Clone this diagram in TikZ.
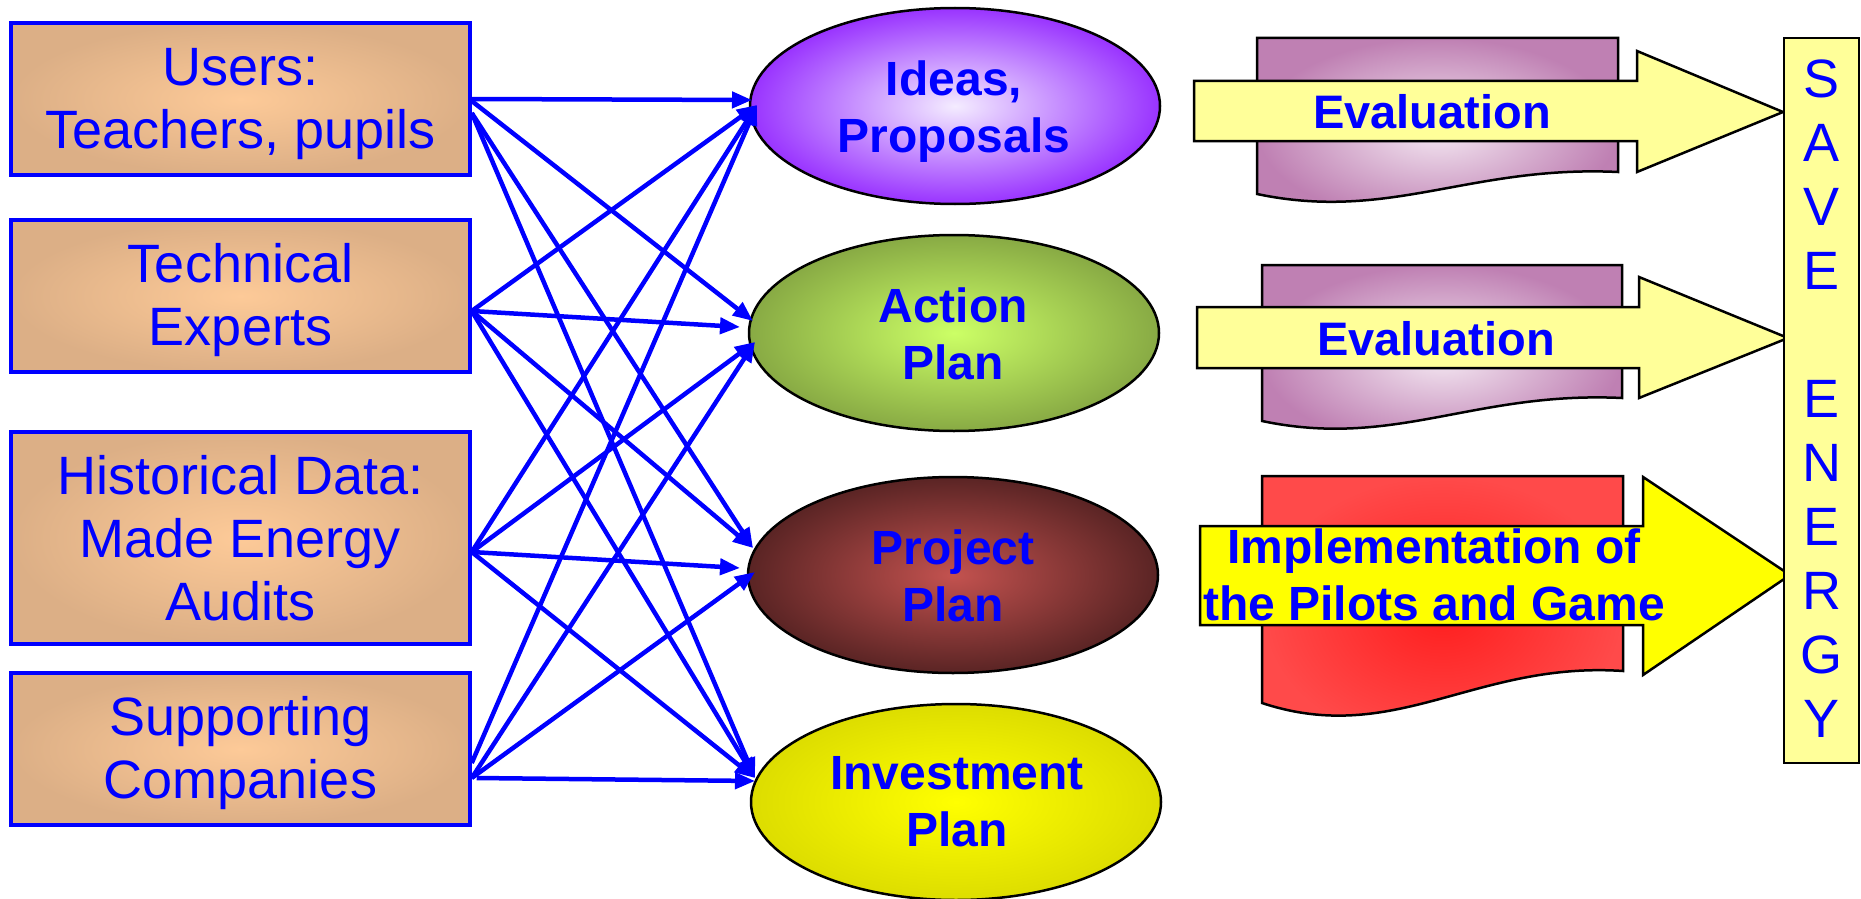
\documentclass[tikz,border=0pt]{standalone}
\usepackage{fontspec}
\setmainfont{Liberation Sans}
\usetikzlibrary{arrows.meta,shapes.geometric}
\definecolor{tblue}{HTML}{0000FF}
\definecolor{boxin}{HTML}{FDCA98}
\definecolor{boxout}{HTML}{DCAF86}
\definecolor{ideain}{HTML}{F4ECFF}
\definecolor{ideaout}{HTML}{9933FF}
\definecolor{actin}{HTML}{CCFF66}
\definecolor{actout}{HTML}{88AA44}
\definecolor{projin}{HTML}{C3524F}
\definecolor{projout}{HTML}{5A2424}
\definecolor{invin}{HTML}{FFFF00}
\definecolor{invout}{HTML}{DDDD00}
\definecolor{purpin}{HTML}{F4E8F2}
\definecolor{purpout}{HTML}{BF80B3}
\definecolor{redin}{HTML}{FF1E1E}
\definecolor{redout}{HTML}{FF4A4A}
\definecolor{lyellow}{HTML}{FFFF99}
\definecolor{byellow}{HTML}{FFFF00}
\begin{document}
\begin{tikzpicture}[x=1pt,y=-1pt,
  srcbox/.style={rectangle, draw=tblue, line width=3.5pt, inner color=boxin, outer color=boxout,
    minimum width=459pt, inner sep=0pt},
  oval/.style={ellipse, draw=black, line width=2.5pt, minimum width=410pt, minimum height=196pt, inner sep=0pt},
  btxt/.style={text=tblue, align=center, inner sep=0pt, font=\fontsize{54pt}{63pt}\selectfont},
  etxt/.style={text=tblue, align=center, inner sep=0pt, font=\fontsize{48pt}{57pt}\selectfont\bfseries},
  wtxt/.style={text=tblue, align=center, inner sep=0pt, font=\fontsize{47pt}{57pt}\selectfont\bfseries},
  conn/.style={draw=tblue, line width=4.5pt, -{Triangle[length=20pt,width=16pt]}},
  shapeline/.style={draw=black, line width=2.5pt, line join=miter}
]
\useasboundingbox (0,0) rectangle (1861,899);

% ---- source boxes
\node[srcbox, minimum height=152pt] (users) at (240.5,99) {};
\node[srcbox, minimum height=152pt] (tech) at (240.5,296) {};
\node[srcbox, minimum height=212pt] (hist) at (240.5,538) {};
\node[srcbox, minimum height=152pt] (supp) at (240.5,749) {};
\node[btxt] (usersT) at (240.5,104.5) {Users:\\Teachers, pupils};
\node[btxt] (techT) at (240.5,300.5) {Technical\\Experts};
\node[btxt] (histT) at (240.5,538) {Historical Data:\\Made Energy \\Audits};
\node[btxt] (suppT) at (240.5,753) {Supporting\\Companies};

% ---- ovals
\node[oval, inner color=ideain, outer color=ideaout] (ideas) at (955,106) {};
\node[oval, inner color=actin, outer color=actout] (action) at (954,333) {};
\node[oval, inner color=projin, outer color=projout] (project) at (953,575) {};
\node[oval, inner color=invin, outer color=invout] (invest) at (956,802) {};
\node[etxt] (ideasT) at (954,112) {Ideas,\\Proposals};
\node[etxt] (actionT) at (953,333.5) {Action\\Plan};
\node[etxt] (projectT) at (953,576) {Project\\Plan};
\node[etxt] (investT) at (957,802) {Investment\\Plan};

% ---- connector end points
\coordinate (sU1) at (users.east);
\coordinate (sU2) at ([yshift=-2pt]users.east);
\coordinate (sU3) at ([yshift=-14pt]users.east);
\coordinate (sT) at ([yshift=-15pt]tech.east);
\coordinate (sH) at ([yshift=-14pt]hist.east);
\coordinate (sS1) at ([yshift=-14pt]supp.east);
\coordinate (sS2) at ([yshift=-29pt]supp.east);
\coordinate (sS0) at ([xshift=5pt,yshift=-29pt]supp.east);
\coordinate (tI0) at (752,100);
\coordinate (tI) at (757,105);
\coordinate (tA1) at (753,321);
\coordinate (tA2) at (740,327);
\coordinate (tA3) at (755,342);
\coordinate (tP1) at (753,548);
\coordinate (tP2) at (740,568);
\coordinate (tP3) at (755,572);
\coordinate (tV) at (755,778);
\coordinate (tV0) at (755,781);

\draw[conn] (sU1) -- (tI0);
\draw[conn] (sU2) -- (tA1);
\draw[conn] (sU3) -- (tP1);
\draw[conn] (sU3) -- (tV);
\draw[conn] (sT) -- (tI);
\draw[conn] (sT) -- (tA2);
\draw[conn] (sT) -- (tP1);
\draw[conn] (sT) -- (tV);
\draw[conn] (sH) -- (tI);
\draw[conn] (sH) -- (tA3);
\draw[conn] (sH) -- (tP2);
\draw[conn] (sH) -- (tV);
\draw[conn] (sS1) -- (tI);
\draw[conn] (sS2) -- (tA3);
\draw[conn] (sS2) -- (tP3);
\draw[conn] (sS0) -- (tV0);

% ---- document shapes behind the arrows
\draw[shapeline, inner color=purpin, outer color=purpout]
  (1257,38) -- (1618,38) -- (1618,172) .. controls (1470,165) and (1390,222) .. (1257,194) -- cycle;
\draw[shapeline, inner color=purpin, outer color=purpout]
  (1262,265) -- (1622,265) -- (1622,398) .. controls (1474,391) and (1395,449) .. (1262,421) -- cycle;
\draw[shapeline, inner color=redin, outer color=redout]
  (1262,476) -- (1623,476) -- (1623,671) .. controls (1475,661) and (1395,747) .. (1262,703) -- cycle;

% ---- block arrows
\draw[shapeline, fill=lyellow]
  (1194,81) -- (1637,81) -- (1637,51) -- (1783,112) -- (1637,172) -- (1637,141) -- (1194,141) -- cycle;
\draw[shapeline, fill=lyellow]
  (1197,307) -- (1639,307) -- (1639,277) -- (1788,338) -- (1639,398) -- (1639,368) -- (1197,368) -- cycle;
\draw[shapeline, fill=byellow]
  (1200,526) -- (1643,526) -- (1643,477) -- (1790,575) -- (1643,675) -- (1643,625) -- (1200,625) -- cycle;

\node[wtxt, anchor=base] (eval1) at (1432,128) {Evaluation};
\node[wtxt, anchor=base] (eval2) at (1436,355) {Evaluation};
\node[etxt] (implT) at (1434,575) {Implementation of\\the Pilots and Game};

% ---- SAVE ENERGY
\node[rectangle, draw=black, line width=2.5pt, fill=lyellow, minimum width=75pt, minimum height=725pt, inner sep=0pt] (save) at (1821.5,400.5) {};
\node[btxt, font=\fontsize{54pt}{64pt}\selectfont] (saveT) at (1821.5,398.5) {S\\A\\V\\E\\\mbox{}\\E\\N\\E\\R\\G\\Y};
\end{tikzpicture}
\end{document}
